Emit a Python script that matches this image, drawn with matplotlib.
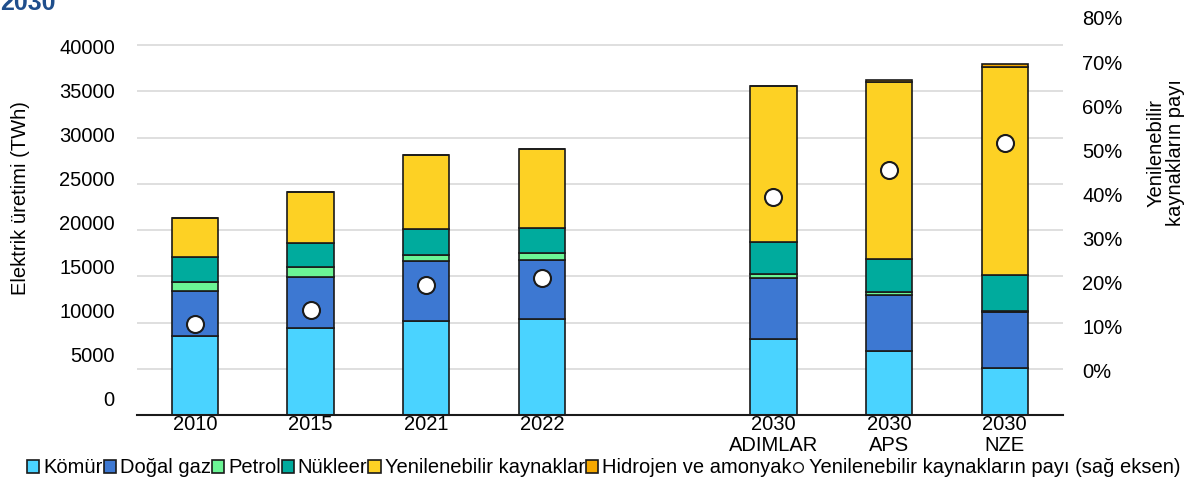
import numpy as np
import matplotlib
matplotlib.use("Agg")
import matplotlib.pyplot as plt
from matplotlib.patches import Patch
from matplotlib.lines import Line2D
from matplotlib.ticker import PercentFormatter

plt.rcParams['font.family'] = ['Liberation Sans', 'DejaVu Sans']

# data (TWh)
labels = ["2010", "2015", "2021", "2022", "2030\nADIMLAR", "2030\nAPS", "2030\nNZE"]
positions = [0, 1, 2, 3, 5, 6, 7]
coal = [8580, 9450, 10170, 10350, 8260, 6920, 5050]
gas = [4840, 5520, 6490, 6460, 6560, 6060, 6060]
oil = [1000, 1010, 690, 750, 470, 290, 140]
nuclear = [2680, 2590, 2810, 2670, 3390, 3570, 3900]
renewables = [4250, 5560, 7970, 8550, 16920, 19230, 22540]
hydrogen = [0, 0, 0, 0, 20, 140, 290]
ren_share = [0.105, 0.136, 0.193, 0.209, 0.393, 0.455, 0.516]

series = [
    ("Kömür", coal, "#4AD3FF"),
    ("Doğal gaz", gas, "#3D78D2"),
    ("Petrol", oil, "#6BF595"),
    ("Nükleer", nuclear, "#00AB9D"),
    ("Yenilenebilir kaynaklar", renewables, "#FDD124"),
    ("Hidrojen ve amonyak", hydrogen, "#F5A800"),
]

FS = 14.5
rect = [0.1144, 0.1582, 0.7726, 0.8053]
fig = plt.figure(figsize=(11.98, 4.93), dpi=100)

# left tick labels sit on their own scale in the reference (slightly off the gridlines)
axl = fig.add_axes(rect)
axl.set_ylim(-1814, 43175)
axl.set_yticks(np.arange(0, 40001, 5000))
axl.set_xticks([])
axl.tick_params(axis="y", length=0, labelsize=FS, pad=16)
axl.patch.set_visible(False)
for s in axl.spines.values():
    s.set_visible(False)

ax = fig.add_axes(rect)
ax.patch.set_visible(False)
ax2 = ax.twinx()

bottom = np.zeros(len(positions))
for name, vals, col in series:
    ax.bar(positions, vals, width=0.40, bottom=bottom, color=col,
           edgecolor="#1a1a1a", linewidth=1.2, zorder=3)
    bottom += np.array(vals)

ax2.scatter(positions, ren_share, s=150, facecolor="white", edgecolor="#1a1a1a",
            linewidth=1.5, zorder=5)

ax.set_xlim(-0.5, 7.5)
ax.set_ylim(0, 42950)
ax.set_yticks(np.arange(0, 40001, 5000))
ax.set_yticklabels([])
ax.set_xticks(positions)
ax.set_xticklabels(labels, fontsize=FS, linespacing=1.1)
ax.tick_params(axis="both", length=0)
ax.tick_params(axis="x", pad=0)
ax.grid(axis="y", color="#D9D9D9", linewidth=1.2, zorder=0)
ax.set_axisbelow(True)
for s in ["top", "left", "right"]:
    ax.spines[s].set_visible(False)
ax.spines["bottom"].set_color("#1a1a1a")
ax.spines["bottom"].set_linewidth(1.5)
ax.spines["bottom"].set_zorder(6)

ax2.set_ylim(-0.102, 0.80)
ax2.set_yticks(np.arange(0, 0.81, 0.1))
ax2.yaxis.set_major_formatter(PercentFormatter(1.0, decimals=0))
ax2.tick_params(axis="y", length=0, labelsize=FS, pad=14)
for s in ["top", "left", "right", "bottom"]:
    ax2.spines[s].set_visible(False)

ax.set_ylabel("Elektrik üretimi (TWh)", fontsize=FS)
ax.yaxis.set_label_coords(-0.116, 0.547)
ax2.set_ylabel("Yenilenebilir\nkaynakların payı", fontsize=FS, linespacing=1.0)
ax2.yaxis.set_label_coords(1.091, 0.66)

fig.text(0.0, 0.98, "2030", fontsize=18, fontweight="bold", color="#1F4E8C",
         ha="left", va="baseline")

handles = [Patch(facecolor=col, edgecolor="#1a1a1a", linewidth=1.2) for _, _, col in series]
handles.append(Line2D([], [], marker="o", linestyle="none", markerfacecolor="white",
                      markeredgecolor="#1a1a1a", markersize=7))
names = [n for n, _, _ in series] + ["Yenilenebilir kaynakların payı (sağ eksen)"]
fig.legend(handles, names, loc="center left", bbox_to_anchor=(0.016, 0.051), ncol=7,
           frameon=False, fontsize=FS, handlelength=0.6, handleheight=0.6,
           handletextpad=0.2, columnspacing=0.05, borderaxespad=0)

fig.savefig("out.png", dpi=100)
